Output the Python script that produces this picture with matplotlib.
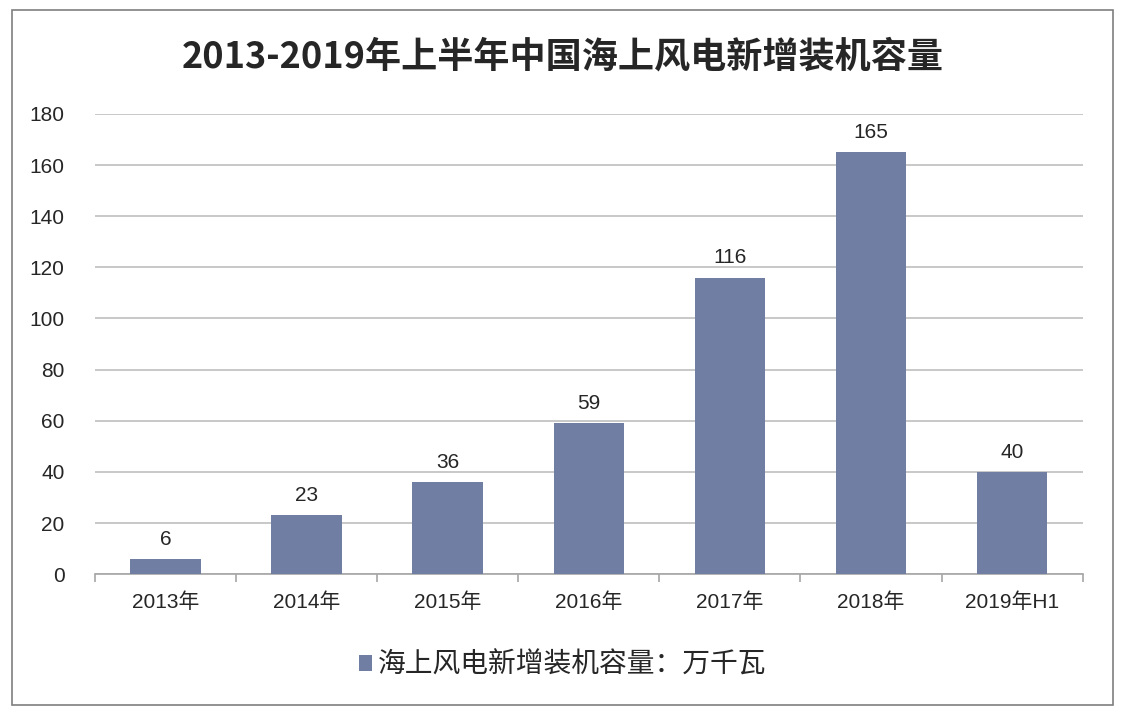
import matplotlib
matplotlib.use("Agg")
import matplotlib.pyplot as plt
from matplotlib.patches import Rectangle, Patch

plt.rcParams['font.family'] = ['Noto Sans CJK SC', 'DejaVu Sans']

# data
categories = ['2013年', '2014年', '2015年', '2016年', '2017年', '2018年', '2019年H1']
capacity = [6, 23, 36, 59, 116, 165, 40]
yticks = [0, 20, 40, 60, 80, 100, 120, 140, 160, 180]
title = '2013-2019年上半年中国海上风电新增装机容量'
series_name = '海上风电新增装机容量：万千瓦'

bar_color = '#717ea3'
grid_color = '#bfbfbf'
text_color = '#262626'
latin = ['Liberation Sans', 'Noto Sans CJK SC', 'DejaVu Sans']

fig = plt.figure(figsize=(11.25, 7.15), dpi=100)
ax = fig.add_axes([0.0844, 0.197, 0.878, 0.6436])

x = list(range(len(categories)))
bars = ax.bar(x, capacity, width=0.5, color=bar_color, zorder=3)

for b, v in zip(bars, capacity):
    ax.text(b.get_x() + b.get_width() / 2, v + 4, str(v), ha='center', va='bottom',
            fontsize=15, color=text_color, family=latin)

ax.set_xlim(-0.5, len(categories) - 0.5)
ax.set_ylim(0, 180)
ax.set_yticks(yticks)
ax.set_yticklabels([str(t) for t in yticks], fontsize=15, color=text_color, family=latin)
ax.yaxis.grid(True, color=grid_color, linewidth=1.2, zorder=0)
ax.tick_params(axis='y', length=0, pad=22)

ax.set_xticks(x)
ax.set_xticklabels(categories, fontsize=15, color=text_color, family=latin)
ax.set_xticks([i - 0.5 for i in range(len(categories) + 1)], minor=True)
ax.tick_params(axis='x', which='major', length=0, pad=13)
ax.tick_params(axis='x', which='minor', length=6, color='#a6a6a6', width=1.2)

for s in ['top', 'right', 'left']:
    ax.spines[s].set_visible(False)
ax.spines['bottom'].set_color('#a6a6a6')
ax.spines['bottom'].set_linewidth(1.2)

fig.text(0.5, 0.92, title, ha='center', va='center', fontsize=26,
         fontweight='bold', color=text_color)

handle = Patch(facecolor=bar_color, edgecolor='none')
fig.legend([handle], [series_name], loc='center', bbox_to_anchor=(0.5, 0.07),
           frameon=False, fontsize=20, handlelength=0.5, handleheight=0.5,
           handletextpad=0.2, labelcolor=text_color)

# outer frame
fig.patches.append(Rectangle((12 / 1125, 10 / 715), 1101 / 1125, 695 / 715,
                             transform=fig.transFigure, fill=False,
                             edgecolor='#7f7f7f', linewidth=1.2))

fig.savefig('out.png', dpi=100)
